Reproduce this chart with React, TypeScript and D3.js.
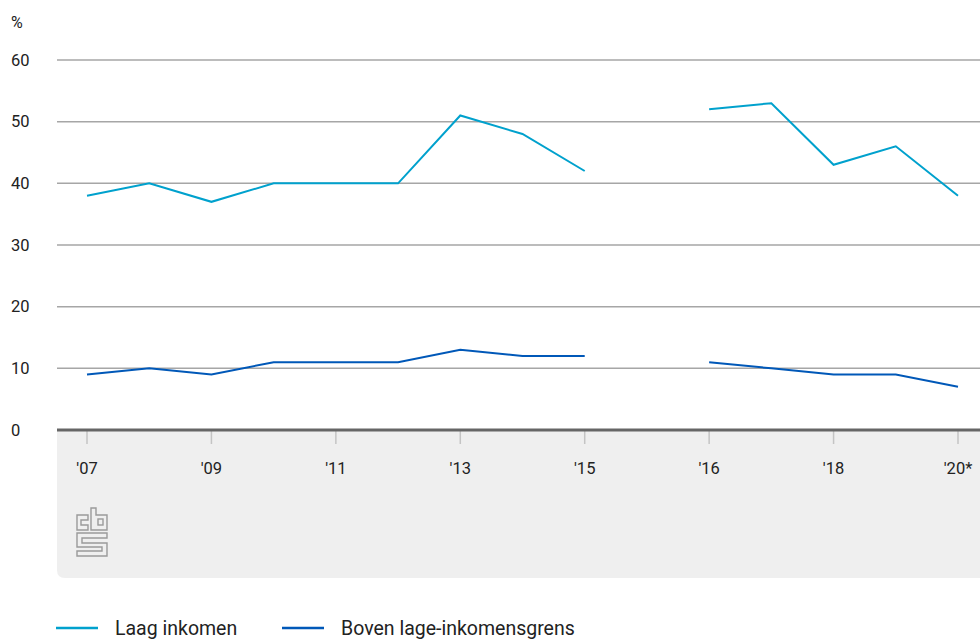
import React from "react";
import * as d3 from "d3";

const years = ["2007","2008","2009","2010","2011","2012","2013","2014","2015","gap","2016","2017","2018","2019","2020"];
const tickYears = ["2007","2009","2011","2013","2015","2016","2018","2020"];
const tickLabels = ["'07","'09","'11","'13","'15","'16","'18","'20*"];
const laag: (number | null)[] = [38,40,37,40,40,40,51,48,42,null,52,53,43,46,38];
const boven: (number | null)[] = [9,10,9,11,11,11,13,12,12,null,11,10,9,9,7];
const yTicks = [0,10,20,30,40,50,60];
const seriesNames = ["Laag inkomen","Boven lage-inkomensgrens"];
const seriesColors = ["#00a1cd","#0058b8"];

export default function App() {
  const W = 980, H = 639;
  const x = d3.scalePoint<string>().domain(years).range([87, 958]);
  const y = d3.scaleLinear().domain([0, 60]).range([430, 60]);
  const line = d3.line<number | null>()
    .defined((d) => d !== null)
    .x((_, i) => x(years[i]) as number)
    .y((d) => y(d as number));
  const font = "Roboto, 'Open Sans', sans-serif";
  const series = [laag, boven];
  const bgPath = `M57,430 H980 V578 H65 Q57,578 57,570 Z`;
  return (
    <svg width={W} height={H} style={{ position: "absolute", left: 0, top: 0 }} fontFamily={font}>
      <path d={bgPath} fill="#efefef" />
      {yTicks.filter((t) => t > 0).map((t) => (
        <line key={t} x1={57} x2={980} y1={y(t)} y2={y(t)} stroke="#a6a6a6" strokeWidth={1.5} />
      ))}
      {yTicks.map((t) => (
        <text key={"l" + t} x={11} y={y(t)} dy="0.35em" fontSize={16.5} fill="#222">{t}</text>
      ))}
      <text x={11} y={22} dy="0.35em" fontSize={16} fill="#222">%</text>
      {tickYears.map((yr, i) => (
        <g key={yr}>
          <line x1={x(yr)} x2={x(yr)} y1={430} y2={444} stroke="#c4c4c4" strokeWidth={1.5} />
          <text x={x(yr)} y={474} textAnchor="middle" fontSize={16.5} fill="#222">{tickLabels[i]}</text>
        </g>
      ))}
      <line x1={57} x2={980} y1={430} y2={430} stroke="#666" strokeWidth={3} />
      {series.map((s, i) => (
        <path key={i} d={line(s) || ""} fill="none" stroke={seriesColors[i]} strokeWidth={2} />
      ))}
      <g fill="none" stroke="#9a9a9a" strokeWidth={1.4}>
        <path d="M77,515 H88 V520 H81 V525 H88 V530 H77 Z" />
        <path d="M91,508 H96 V515 H107 V530 H91 Z" />
        <rect x={98} y={519} width={5} height={6} />
        <path d="M77,533 H107 V538 H82 V543 H107 V556 H77 V551 H102 V547 H77 Z" />
      </g>
      {seriesNames.map((n, i) => {
        const lx = [56, 282][i];
        return (
          <g key={n}>
            <line x1={lx} x2={lx + 42} y1={628} y2={628} stroke={seriesColors[i]} strokeWidth={2.5} />
            <text x={lx + 59} y={628} dy="0.35em" fontSize={19.5} fill="#222">{n}</text>
          </g>
        );
      })}
    </svg>
  );
}
